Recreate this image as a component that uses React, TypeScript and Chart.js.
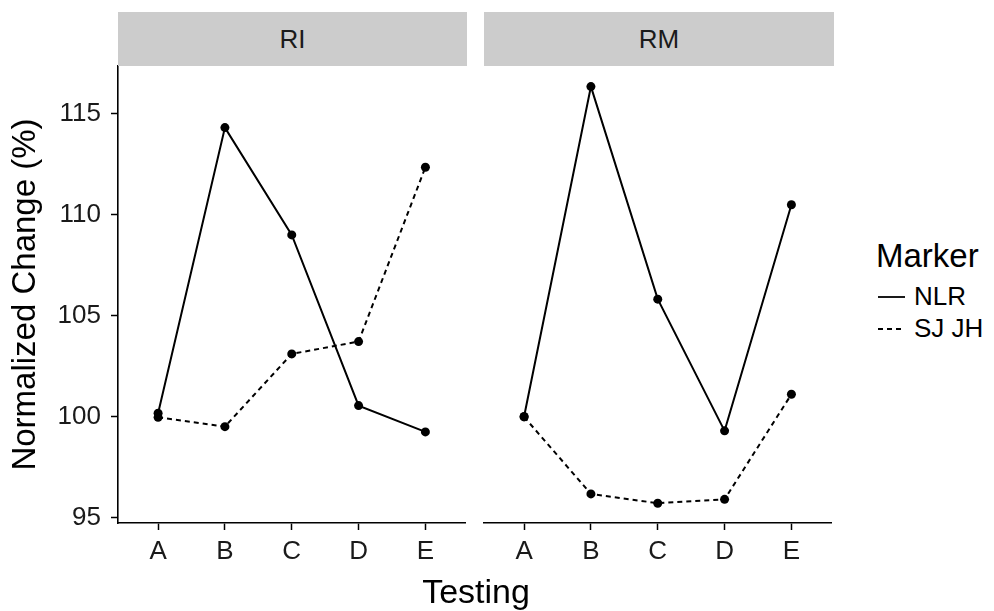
import React, { useEffect, useRef } from "react";
import { Chart, registerables } from "chart.js";

Chart.register(...registerables);

// ---- data ----
const categories = ["A", "B", "C", "D", "E"];
const panelNames = ["RI", "RM"];
const seriesNames = ["NLR", "SJ JH"];
const riNLR = [100.18, 114.32, 109.01, 100.56, 99.26];
const riSJJH = [99.98, 99.52, 103.12, 103.73, 112.36];
const rmNLR = [100.02, 116.35, 105.83, 99.31, 110.5];
const rmSJJH = [100.0, 96.19, 95.73, 95.92, 101.12];
const yTicks = [95, 100, 105, 110, 115];
const yMin = 94.75;
const yMax = 117.37;

const FONT = "'Liberation Sans', Arial, Helvetica, sans-serif";

function toPoints(values: number[]) {
  return values.map((v, i) => ({ x: i, y: v }));
}

function makeConfig(nlr: number[], sj: number[], showY: boolean, padLeft: number): any {
  const common = {
    borderColor: "#000",
    backgroundColor: "#000",
    borderWidth: 2,
    pointRadius: 4.5,
    pointBorderWidth: 0,
    pointBackgroundColor: "#000",
    tension: 0,
    fill: false,
  };
  return {
    type: "line",
    data: {
      datasets: [
        { ...common, label: seriesNames[0], data: toPoints(nlr) },
        { ...common, label: seriesNames[1], data: toPoints(sj), borderDash: [5, 4] },
      ],
    },
    options: {
      animation: false,
      responsive: false,
      events: [],
      layout: { padding: { top: 66, right: 2, left: padLeft, bottom: 0 } },
      plugins: { legend: { display: false }, tooltip: { enabled: false } },
      scales: {
        x: {
          type: "linear",
          min: -0.6,
          max: categories.length - 1 + 0.6,
          afterBuildTicks: (s: any) => {
            s.ticks = categories.map((_, i) => ({ value: i }));
          },
          afterFit: (s: any) => {
            s.height = 88;
          },
          grid: { drawOnChartArea: false, drawTicks: true, tickLength: 7, tickColor: "#000", tickWidth: 1.5, color: "#000" },
          border: { display: true, color: "#000", width: 1.6 },
          ticks: {
            autoSkip: false,
            maxRotation: 0,
            padding: 6,
            color: "#1a1a1a",
            font: { family: FONT, size: 26 },
            callback: (v: any) => categories[v as number] ?? "",
          },
        },
        y: {
          type: "linear",
          display: showY,
          min: yMin,
          max: yMax,
          afterBuildTicks: (s: any) => {
            s.ticks = yTicks.map((v) => ({ value: v }));
          },
          afterFit: (s: any) => {
            s.width = showY ? 118 : 0;
          },
          grid: { drawOnChartArea: false, drawTicks: true, tickLength: 7, tickColor: "#000", tickWidth: 1.5, color: "#000" },
          border: { display: true, color: "#000", width: 1.6 },
          ticks: {
            padding: 10,
            color: "#1a1a1a",
            font: { family: FONT, size: 26 },
          },
          title: {
            display: true,
            text: "Normalized Change (%)",
            color: "#000",
            font: { family: FONT, size: 33 },
            padding: { top: 6, bottom: 0 },
          },
        },
      },
    },
  };
}

function Panel(props: { nlr: number[]; sj: number[]; showY: boolean; left: number; width: number; padLeft: number }) {
  const ref = useRef<HTMLCanvasElement | null>(null);
  useEffect(() => {
    if (!ref.current) return;
    const chart = new Chart(ref.current, makeConfig(props.nlr, props.sj, props.showY, props.padLeft));
    return () => chart.destroy();
  }, []);
  return (
    <canvas
      ref={ref}
      width={props.width}
      height={611}
      style={{ position: "absolute", left: props.left, top: 0, width: props.width, height: 611 }}
    />
  );
}

const stripStyle = (left: number, width: number): React.CSSProperties => ({
  position: "absolute",
  left,
  top: 12,
  width,
  height: 54,
  background: "#cccccc",
  color: "#1a1a1a",
  fontFamily: FONT,
  fontSize: 26,
  lineHeight: "54px",
  textAlign: "center",
});

export default function App() {
  return (
    <div style={{ position: "absolute", left: 0, top: 0, width: 994, height: 611, background: "#fff", overflow: "hidden" }}>
      <Panel nlr={riNLR} sj={riSJJH} showY={true} left={0} width={470} padLeft={0} />
      <Panel nlr={rmNLR} sj={rmSJJH} showY={false} left={470} width={366} padLeft={14} />
      <div style={stripStyle(118, 349)}>{panelNames[0]}</div>
      <div style={stripStyle(484, 350)}>{panelNames[1]}</div>
      <div
        style={{
          position: "absolute",
          left: 276,
          width: 400,
          top: 574,
          fontFamily: FONT,
          fontSize: 34,
          lineHeight: "34px",
          textAlign: "center",
          color: "#000",
        }}
      >
        Testing
      </div>
      <div style={{ position: "absolute", left: 876, top: 239, fontFamily: FONT, fontSize: 33, lineHeight: "33px", color: "#000" }}>
        Marker
      </div>
      <svg style={{ position: "absolute", left: 876, top: 284, width: 32, height: 56 }} width={32} height={56}>
        <line x1={2} y1={13} x2={29} y2={13} stroke="#000" strokeWidth={1.8} />
        <line x1={2} y1={45} x2={29} y2={45} stroke="#000" strokeWidth={1.8} strokeDasharray="5 4" />
      </svg>
      <div style={{ position: "absolute", left: 914, top: 283, fontFamily: FONT, fontSize: 26, lineHeight: "26px", color: "#000" }}>
        {seriesNames[0]}
      </div>
      <div style={{ position: "absolute", left: 914, top: 315, fontFamily: FONT, fontSize: 26, lineHeight: "26px", color: "#000" }}>
        {seriesNames[1]}
      </div>
    </div>
  );
}
